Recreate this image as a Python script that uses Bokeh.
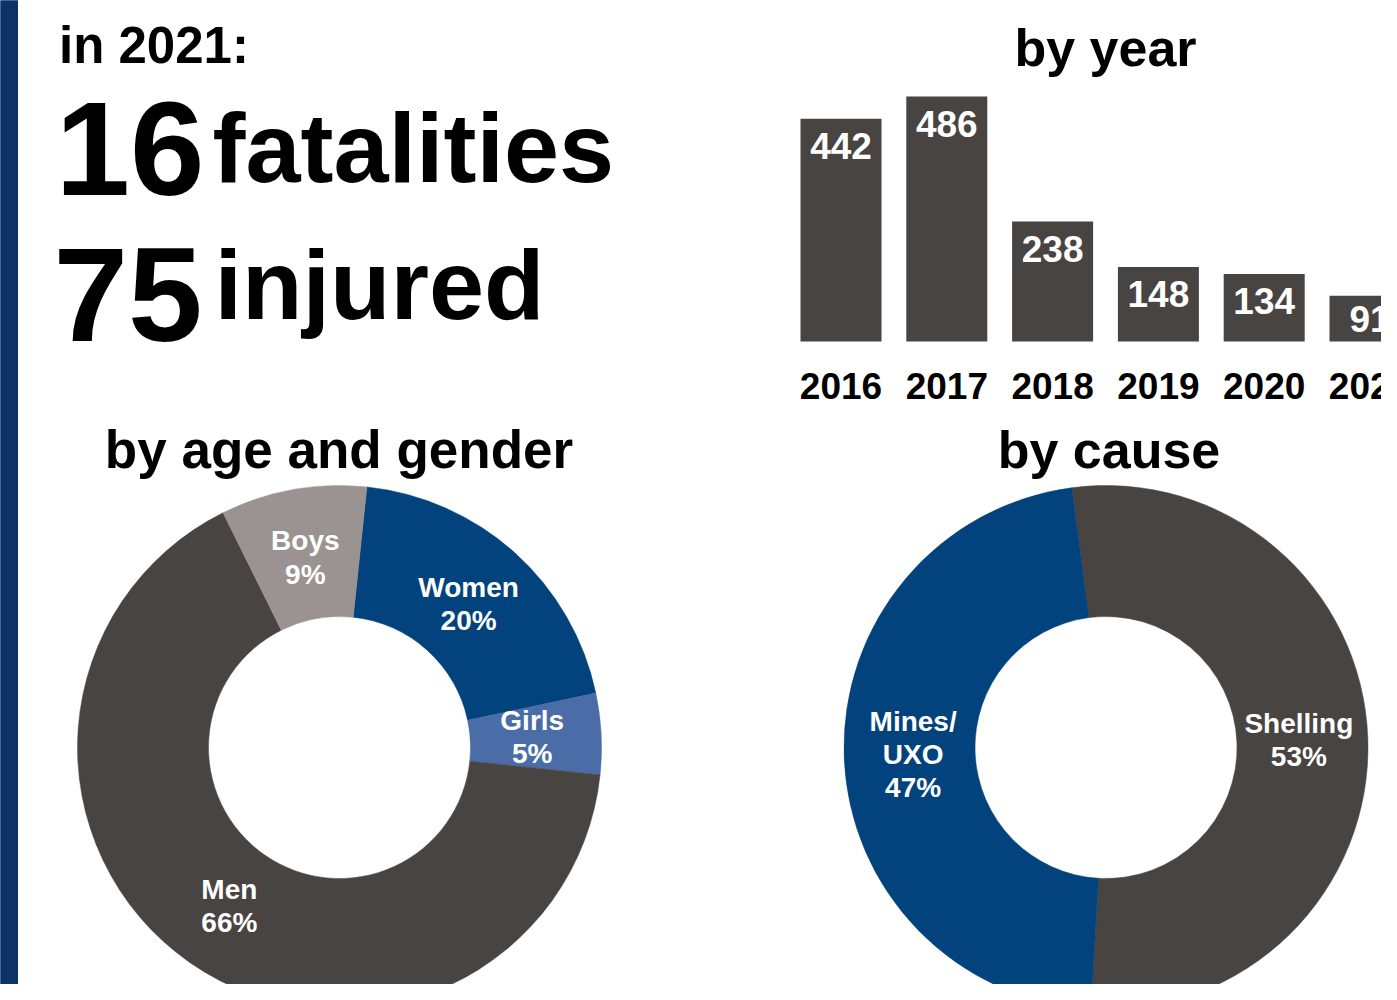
import math
from bokeh.plotting import figure
from bokeh.models import Range1d, BoxAnnotation, ColumnDataSource
from bokeh.layouts import row, column
from bokeh.embed import file_html
from bokeh.resources import INLINE
from bokeh.core.properties import value

# ---------------- data ----------------
years = ["2016", "2017", "2018", "2019", "2020", "2021"]
casualties = [442, 486, 238, 148, 134, 91]

fatalities_2021 = 16
injured_2021 = 75

age_gender_labels = ["Women", "Girls", "Men", "Boys"]
age_gender_pct = [20, 5, 66, 9]

cause_labels = ["Shelling", "Mines/\nUXO"]
cause_pct = [53, 47]

# ---------------- style ----------------
FONT = "Liberation Sans"
GREY = "#484442"
NAVY = "#02427d"
LIGHT_BLUE = "#4a6ca7"
WARM_GREY = "#9b9391"
STRIP = "#0d3267"
age_gender_colors = [NAVY, LIGHT_BLUE, GREY, WARM_GREY]
cause_colors = [GREY, NAVY]
K_BASE = 0.365          # correction so that y is the text's alphabetic baseline

# layout in reference pixel space
X0, X1 = 0, 1381
Y0, Y1 = 0, 984
STRIP_W = 18
SPLIT_X, SPLIT_Y = 700, 415


def yup(py):
    return 1000 - py


def base_fig(xr, yr, w, h):
    p = figure(width=w, height=h, x_range=Range1d(*xr), y_range=Range1d(*yr),
               output_backend="svg", toolbar_location=None,
               min_border=0, outline_line_color=None,
               x_axis_location=None, y_axis_location=None)
    p.grid.visible = False
    p.title.visible = False
    p.background_fill_color = "white"
    p.border_fill_color = "white"
    return p


def add_text(p, x, y, text, size, align="left", color="black"):
    p.text(x=[x], y=[y], text=[text], text_font=value(FONT), text_font_style="bold",
           text_font_size=f"{size}px", text_color=color, text_align=align,
           text_baseline="alphabetic", y_offset=-K_BASE * size)


# ---------------- left blue strip ----------------
ps = base_fig((0, 1), (0, 1), STRIP_W, Y1 - Y0)
ps.background_fill_color = STRIP
ps.border_fill_color = STRIP
ps.add_layout(BoxAnnotation(left=-1, right=2, bottom=-1, top=2,
                            fill_color=STRIP, fill_alpha=1, line_color=None))

# ---------------- top-left text block ----------------
pt = base_fig((STRIP_W, SPLIT_X), (yup(SPLIT_Y), yup(Y0)), SPLIT_X - STRIP_W, SPLIT_Y - Y0)
add_text(pt, 58.5, yup(64), "in 2021:", 51)
add_text(pt, 55, yup(197), str(fatalities_2021), 134)
add_text(pt, 212, yup(183), "fatalities", 99)
add_text(pt, 53, yup(343), str(injured_2021), 134)
add_text(pt, 214, yup(320), "injured", 99)


# ---------------- donuts ----------------
R_OUT, R_IN, R_LAB = 262, 131, 193
LAB_SIZE = 28


def donut(p, cx, cy, labels, pcts, colors, start_cw_deg):
    starts, ends, lx, ly, texts = [], [], [], [], []
    cum = 0.0
    for lab, pc in zip(labels, pcts):
        t1 = start_cw_deg + cum * 3.6
        t2 = start_cw_deg + (cum + pc) * 3.6
        cum += pc
        starts.append(math.radians(90 - t1))
        ends.append(math.radians(90 - t2))
        mid = math.radians((t1 + t2) / 2)
        lx.append(cx + R_LAB * math.sin(mid))
        ly.append(cy + R_LAB * math.cos(mid))
        texts.append(f"{lab}\n{pc}%")
    src = ColumnDataSource(dict(start=starts, end=ends, color=colors, lx=lx, ly=ly, text=texts))
    p.annular_wedge(x=cx, y=cy, inner_radius=R_IN, outer_radius=R_OUT,
                    start_angle="start", end_angle="end", direction="clock",
                    fill_color="color", line_color="color", line_width=0.5, source=src)
    p.text(x="lx", y="ly", text="text", source=src, text_font=value(FONT),
           text_font_style="bold", text_font_size=f"{LAB_SIZE}px", text_color="white",
           text_align="center", text_baseline="middle", text_line_height=1.07)


dh = Y1 - SPLIT_Y
pd1 = base_fig((STRIP_W, SPLIT_X), (yup(Y1), yup(SPLIT_Y)), SPLIT_X - STRIP_W, dh)
add_text(pd1, 338.5, yup(468), "by age and gender", 53, align="center")
donut(pd1, 339, yup(747), age_gender_labels, age_gender_pct, age_gender_colors, 6)

pd2 = base_fig((SPLIT_X, X1), (yup(Y1), yup(SPLIT_Y)), X1 - SPLIT_X, dh)
add_text(pd2, 1108.5, yup(468), "by cause", 52, align="center")
donut(pd2, 1105.5, yup(747), cause_labels, cause_pct, cause_colors, -7.5)


# ---------------- bar chart ----------------
BAR0, PITCH, BAR_W = 840.5, 105.8, 81   # first bar centre, bar pitch, bar width (px)
PXU = 0.504                              # pixels per casualty
BASE_Y = 341                             # reference y of bar baseline
BAR_LAB = 37


def val_y(py):
    return (BASE_Y - py) / PXU


idx = list(range(len(years)))
pb = base_fig(((SPLIT_X - BAR0) / PITCH, (X1 - BAR0) / PITCH),
              (val_y(SPLIT_Y), val_y(Y0)), X1 - SPLIT_X, SPLIT_Y - Y0)
offs = [min(41.0, v * PXU / 2 + 13.5) - K_BASE * BAR_LAB for v in casualties]
bsrc = ColumnDataSource(dict(x=idx, top=casualties, lab=[str(v) for v in casualties],
                             off=offs, year=years, ly=[val_y(399.3)] * len(years)))
pb.vbar(x="x", top="top", bottom=0, width=BAR_W / PITCH, source=bsrc,
        fill_color=GREY, line_color=None)
pb.text(x="x", y="top", text="lab", y_offset="off", source=bsrc, text_font=value(FONT),
        text_font_style="bold", text_font_size=f"{BAR_LAB}px", text_color="white",
        text_align="center", text_baseline="alphabetic")
# category (year) labels under the bars
pb.text(x="x", y="ly", text="year", source=bsrc, text_font=value(FONT),
        text_font_style="bold", text_font_size=f"{BAR_LAB}px", text_color="black",
        text_align="center", text_baseline="alphabetic", y_offset=-K_BASE * BAR_LAB)
add_text(pb, 2.5, val_y(66), "by year", 52, align="center")

layout = row(ps, column(pt, pd1), column(pb, pd2))
open("out.html", "w").write(file_html(layout, INLINE))
